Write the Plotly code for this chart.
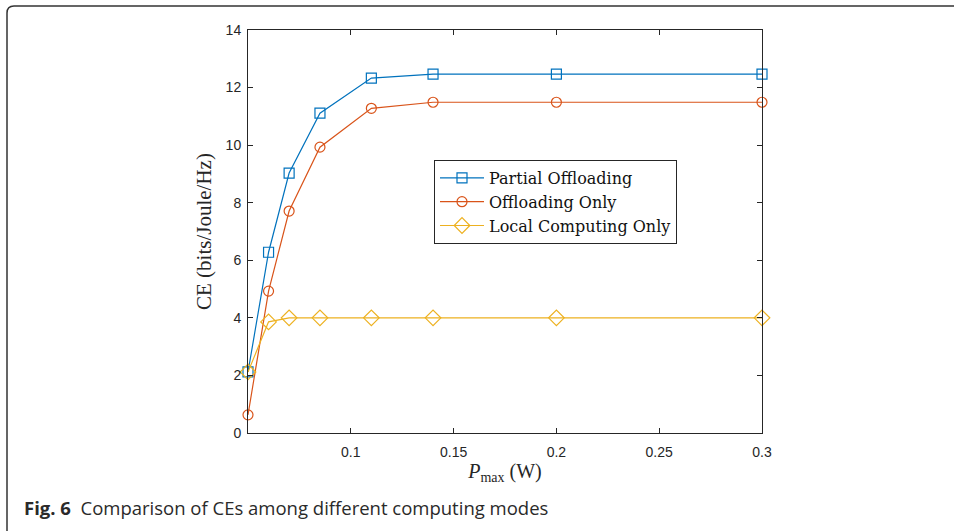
import plotly.graph_objects as go

p_max = [0.05, 0.06, 0.07, 0.085, 0.11, 0.14, 0.2, 0.3]
partial = [2.12, 6.28, 9.03, 11.11, 12.33, 12.47, 12.47, 12.47]
offload = [0.63, 4.93, 7.71, 9.93, 11.28, 11.49, 11.49, 11.49]
local = [2.12, 3.86, 4.0, 4.0, 4.0, 4.0, 4.0, 4.0]
names = ["Partial Offloading", "Offloading Only", "Local Computing Only"]
colors = ["#0072BD", "#D95319", "#EDB120"]
symbols = ["square-open", "circle-open", "diamond-open"]
xticks = [0.1, 0.15, 0.2, 0.25, 0.3]
yticks = [0, 2, 4, 6, 8, 10, 12, 14]

W, H = 954, 531
L, R, T, B = 248, 762, 30, 433
SERIF = "Liberation Serif, DejaVu Serif, serif"

fig = go.Figure()
for ys, n, c, s in zip([partial, offload, local], names, colors, symbols):
    fig.add_trace(go.Scatter(x=p_max, y=ys, name=n, mode="lines+markers",
                             line=dict(color=c, width=1.2),
                             marker=dict(symbol=s, size=10 if s != "diamond-open" else 12,
                                         color=c, line=dict(color=c, width=1.2)),
                             cliponaxis=False))

def px(x):
    return (x - L) / (R - L)

def py(y):
    return (B - y) / (B - T)

axis_common = dict(showline=True, linecolor="#262626", linewidth=1, mirror="ticks",
                   ticks="inside", ticklen=5, tickcolor="#262626", showgrid=False,
                   zeroline=False, tickfont=dict(family="Liberation Sans, Arial", size=14, color="#262626"))

fig.update_xaxes(range=[0.05, 0.3], tickvals=xticks, ticktext=[f"{v:g}" for v in xticks],
                 ticklabelstandoff=6,
                 title=dict(text="<i>P</i><sub>max</sub> (W)", font=dict(family=SERIF, size=20, color="#262626"), standoff=0),
                 **axis_common)
fig.update_yaxes(range=[0, 14], tickvals=yticks, ticklabelstandoff=3,
                 title=dict(text="CE (bits/Joule/Hz)", font=dict(family=SERIF, size=21, color="#262626"), standoff=8),
                 **axis_common)

r = 7
x0, y0 = 7, 6
path = (f"M {px(x0)},{py(H + 20)} L {px(x0)},{py(y0 + r)} "
        f"Q {px(x0)},{py(y0)} {px(x0 + r)},{py(y0)} L {px(W + 20)},{py(y0)}")
fig.add_shape(type="path", path=path, xref="paper", yref="paper",
              line=dict(color="#333333", width=1.5))

fig.add_annotation(text="<b>Fig. 6</b>  Comparison of CEs among different computing modes",
                   xref="paper", yref="paper", x=px(22), y=py(507), xanchor="left", yanchor="middle",
                   showarrow=False, font=dict(family="Open Sans, Noto Sans", size=18.5, color="#2a2a2a"))

fig.update_layout(width=W, height=H, margin=dict(l=L, r=W - R, t=T, b=H - B, autoexpand=False),
                  plot_bgcolor="white", paper_bgcolor="white", showlegend=True,
                  legend=dict(x=px(434), y=py(160), xanchor="left", yanchor="top",
                              bgcolor="white", bordercolor="#262626", borderwidth=1,
                              font=dict(family="DejaVu Serif, serif", size=16, color="#111111"),
                              tracegroupgap=0, itemwidth=44))

fig.write_html("out.html", config={"displayModeBar": False},
               post_script="document.body.style.margin='0';")
